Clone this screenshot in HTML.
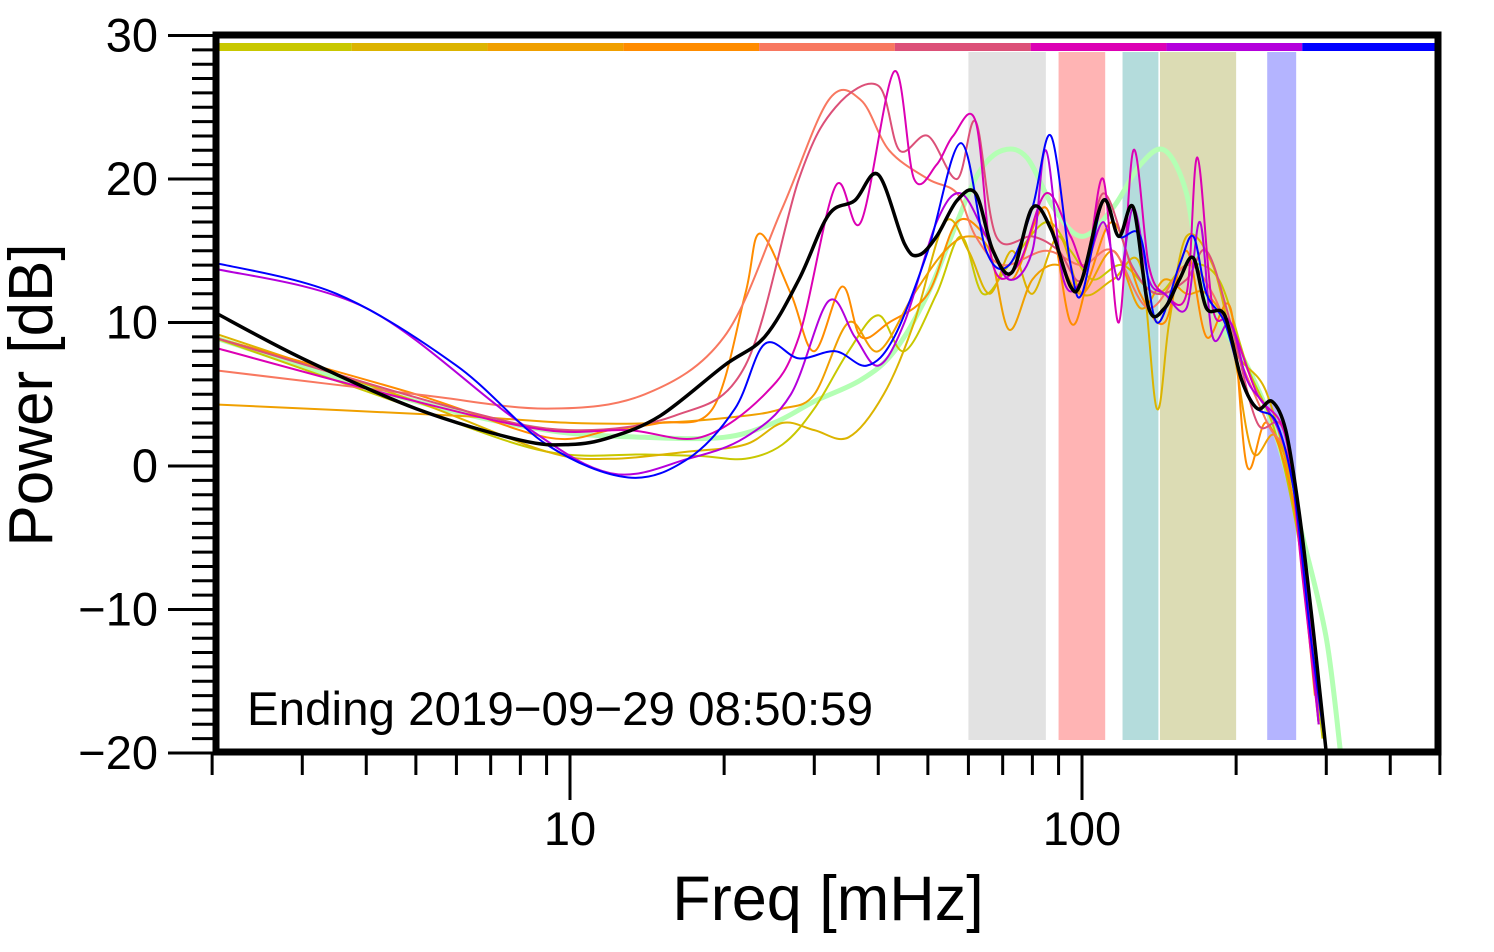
<!DOCTYPE html>
<html><head><meta charset="utf-8"><style>
html,body{margin:0;padding:0;background:#fff;width:1494px;height:952px;overflow:hidden}
svg{display:block;font-family:"Liberation Sans",Arial,sans-serif}
</style></head><body>
<svg id="chart" width="1494" height="952" viewBox="0 0 1494 952" xmlns="http://www.w3.org/2000/svg">
<defs><clipPath id="plotclip"><rect x="216" y="35" width="1222" height="717"/></clipPath></defs>
<g id="bands"></g>
<g id="colorbar"></g>
<g id="series" clip-path="url(#plotclip)"></g>
<g id="axes"></g>
<text x="247" y="725" font-size="47.5">Ending 2019−09−29 08:50:59</text>
<text x="828" y="920" font-size="63" text-anchor="middle">Freq [mHz]</text>
<text transform="translate(52,395) rotate(-90)" font-size="62" text-anchor="middle">Power [dB]</text>
</svg>
<script>
const yTicks=[30,20,10,0,-10,-20];
const yTickLabels=["30","20","10","0","−10","−20"];
const xMajorTicks=[10,100];
const xTickLabels=["10","100"];
const bandRanges=[[60,85],[90,111],[120,141],[142,200],[230,262]];
const bandColors=["#e2e2e2","#ffb4b4","#b4dcdc","#dcdcb4","#b4b4ff"];
const barColors=["#c8c800","#dcb400","#f0a000","#ff8c00","#f87860","#dc5078","#dc00b4","#b400dc","#0000ff"];

const fLG=[2,5,9,14,20,25,30,37,43,50,57,63,70,78,88,100,115,130,145,160,170,185,210,240,270,300,320];
const vLG=[9,4.5,2.5,2,2,3,4.5,6,8,12,17,20.5,22,21.5,18,16,18,21,22,19,13,10,7,2,-5,-12,-20];
const fYG=[2,5,9,14,18,22,26,30,35,40,45,52,58,64,72,85,95,105,120,140,160,185,210,240,270,295];
const vYG=[9,4,1,0.8,0.7,0.5,1.5,4,8,10.5,8,12,16,12,14,17,15,13,14,12,14,13,7,2,-7,-19];
const fGD=[2,5,9,12,17,22,26,30,35,41,47,54,60,66,73,80,90,100,115,130,140,148,160,180,200,230,260,290];
const vGD=[9.3,4.5,1,0.5,1,1.5,3,2.5,2,5,10,17,15,12,15,12,16,12,13,14,4,10,16,14,8,5,-3,-18];
const fOR=[2,6,10,15,22,26,30,35,40,47,54,60,66,72,80,90,100,115,130,145,160,175,195,215,240,270,290];
const vOR=[4.3,3.5,3,3,3.5,4,5,10,8,12,15,16,15,9.5,13,14,12,15,11,13,12,12,9,1,2,-5,-18];
const fDO=[2,5,9,12,15,19,22,23.5,27,30,34,37,42,50,57,65,73,85,95,103,115,130,145,160,175,195,210,230,260,285];
const vDO=[9,5,2,2.5,3,4,12,16.2,12,8,12.5,9,10,12,17,16,13,18,10,13,17,12,10,15,9,11,0,3,-3,-16];
const fSA=[2,5,9,14,20,26,32,37,42,50,57,62,70,85,100,115,135,160,180,200,230,260,290];
const vSA=[6.7,5,4,5,9,18,25.5,25.5,22,20,19,16,14,15,14,15,11,14,12,8,3,-1,-17];
const fPR=[2,6,10,16,22,28,33,40,44,50,57,62,68,80,90,100,110,125,140,160,175,195,220,250,280];
const vPR=[9,4,2.5,3.5,7,20,25,26.5,22,23,20,24,16,16,15,13,19,14,12,13,15,10,3,2,-12];
const fMG=[2,5,9,13,18,24,28,33,37,43,47,52,56,62,67,75,85,95,102,110,118,126,135,145,160,168,180,195,220,250,270,290];
const vMG=[8.3,4.5,2.5,2.5,2,5,9,19.5,17,27.5,20,21,23,24,14,14,19,16,14,20,10,22,14,12,12,21.5,11,10,5,2,-8,-18];
const fPU=[2,4,8,12,17,22,27,32,36,40,45,52,58,65,72,80,85,92,100,110,118,126,135,145,160,170,180,195,210,230,250,270,290];
const vPU=[13.8,11,3,-0.5,0.5,2,5,11.5,9,7,10,17,19,16,13,15,22,13,13,17,13,18,13,12,11,17,9,10,6,4,1,-6,-18];
const fBL=[2,3.5,6,9,13,17,21,24,28,33,38,43,50,58,65,72,80,87,95,100,110,118,130,140,155,165,175,190,205,220,240,260,280,300];
const vBL=[14.2,12,7,1.5,-0.8,0.5,4,8.5,7.5,8,7,9,15,22.5,15,14,18,23,14,12,18.5,16,16,10,14,16,12,10,6,4,3,-2,-12,-20];
const fMN=[2,3,5,8,10,12,15,20,24,28,32,36,40,45,48,52,57,62,67,73,80,87,95,100,110,118,126,135,145,155,165,175,190,205,220,235,250,265,280,290,300];
const vMN=[10.8,7.5,4,1.8,1.5,2,3.5,7,9,13,17.5,18.5,20.3,15.5,14.7,16,18.5,19,15,13.5,18,16.5,12.5,13,18.5,16,18,11,11,13,14.5,11,10.5,6,4,4.5,2.5,-3,-10,-15,-20];

const X0=570,DEC=512,Y0=466,DB=14.35;
const xs=f=>X0+DEC*(Math.log10(f)-1);
const ys=v=>Y0-DB*v;
const NS="http://www.w3.org/2000/svg";
function mk(tag,attrs,parent){const e=document.createElementNS(NS,tag);for(const k in attrs)e.setAttribute(k,attrs[k]);parent.appendChild(e);return e;}

const bandsG=document.getElementById('bands');
bandRanges.forEach((r,i)=>{
  const e=mk('rect',{x:xs(r[0]),y:52,width:xs(r[1])-xs(r[0]),height:688,fill:bandColors[i]},bandsG);
  
  
});
const cbG=document.getElementById('colorbar');
const segW=(1438-216)/barColors.length;
barColors.forEach((c,i)=>{
  const e=mk('rect',{x:216+i*segW,y:43,width:segW,height:8,fill:c},cbG);
  
  
});

function pathD(fs,vs){
  const p=fs.map((f,i)=>[xs(f),ys(vs[i])]);
  let d='M'+p[0][0].toFixed(1)+','+p[0][1].toFixed(1);
  for(let i=0;i<p.length-1;i++){
    const a=p[Math.max(0,i-1)],b=p[i],c=p[i+1],e=p[Math.min(p.length-1,i+2)];
    const c1=[b[0]+(c[0]-a[0])/6,b[1]+(c[1]-a[1])/6],c2=[c[0]-(e[0]-b[0])/6,c[1]-(e[1]-b[1])/6];
    d+=' C'+c1[0].toFixed(1)+','+c1[1].toFixed(1)+' '+c2[0].toFixed(1)+','+c2[1].toFixed(1)+' '+c[0].toFixed(1)+','+c[1].toFixed(1);
  }
  return d;
}
const sG=document.getElementById('series');
const seriesList=[
 ['model-spectrum',fLG,vLG,'#b4ffb4',5],
 ['spectrum-1',fYG,vYG,'#c8c800',2],
 ['spectrum-2',fGD,vGD,'#dcb400',2],
 ['spectrum-3',fOR,vOR,'#f0a000',2],
 ['spectrum-4',fDO,vDO,'#ff8c00',2],
 ['spectrum-5',fSA,vSA,'#f87860',2],
 ['spectrum-6',fPR,vPR,'#dc5078',2],
 ['spectrum-7',fMG,vMG,'#dc00b4',2],
 ['spectrum-8',fPU,vPU,'#b400dc',2],
 ['spectrum-9',fBL,vBL,'#0000ff',2],
 ['mean-spectrum',fMN,vMN,'#000000',3.5]
];
seriesList.forEach(s=>{
  const e=mk('path',{d:pathD(s[1],s[2]),fill:'none',stroke:s[3],'stroke-width':s[4],'stroke-linejoin':'round'},sG);
  
  
});

const ax=document.getElementById('axes');
const fr=mk('rect',{x:216,y:35,width:1222,height:717,fill:'none',stroke:'#000','stroke-width':7},ax);


for(let v=-20;v<=30;v++){
  const major=v%10===0;
  const t=mk('line',{x1:major?168:192,x2:214,y1:ys(v),y2:ys(v),stroke:'#000','stroke-width':3},ax);
  
  
}
yTicks.forEach((v,i)=>{
  const t=mk('text',{x:158,y:ys(v)+16,'font-size':47,'text-anchor':'end'},ax);
  t.textContent=yTickLabels[i];
  
  
});
for(let dec=1;dec<=100;dec*=10){
  for(let k=1;k<=9;k++){
    const f=k*dec; if(f<2||f>500) continue;
    const major=k===1;
    const t=mk('line',{x1:xs(f),x2:xs(f),y1:754,y2:major?800:775,stroke:'#000','stroke-width':3},ax);
    
    
  }
}
xMajorTicks.forEach((f,i)=>{
  const t=mk('text',{x:xs(f),y:845,'font-size':47,'text-anchor':'middle'},ax);
  t.textContent=xTickLabels[i];
  
  
});
</script>
</body></html>
